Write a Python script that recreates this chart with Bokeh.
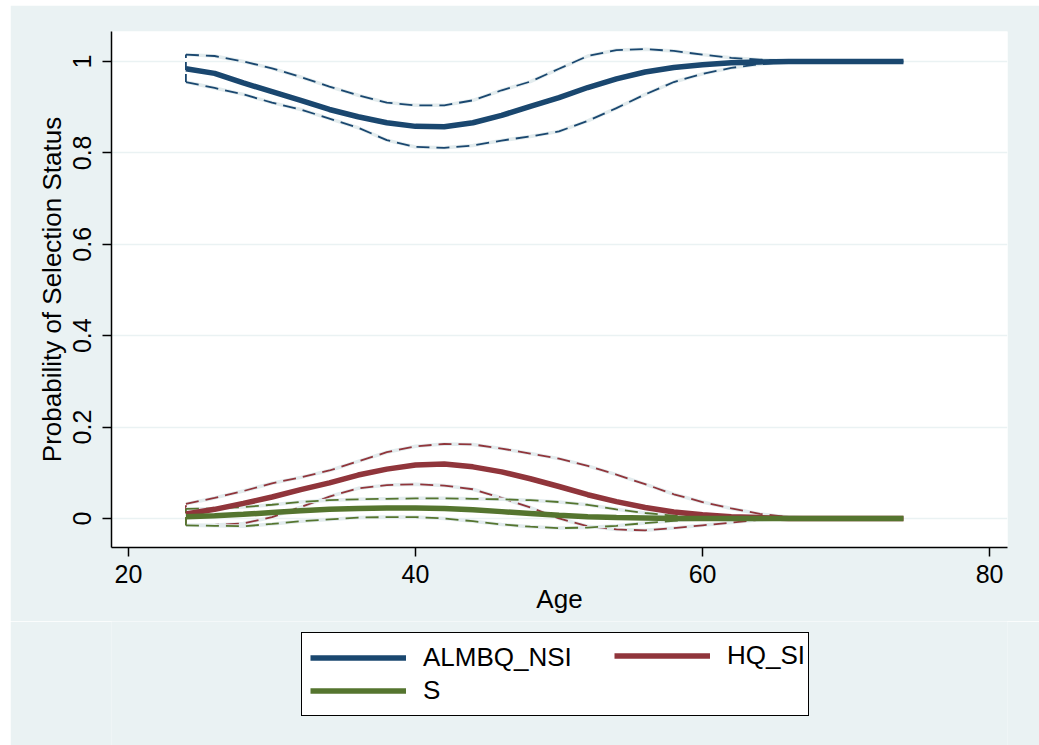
from bokeh.plotting import figure
from bokeh.models import Range1d, FixedTicker, Legend, LegendItem
from bokeh.layouts import column
from bokeh.embed import file_html
from bokeh.resources import INLINE

# ---------------- data ----------------
ages = [24, 26, 28, 30, 32, 34, 36, 38, 40, 42, 44, 46, 48, 50, 52, 54, 56,
        58, 60, 62, 64, 66, 68, 70, 72, 74]

almbq_p = [0.984, 0.974, 0.953, 0.934, 0.915, 0.895, 0.879, 0.866, 0.858, 0.857,
           0.866, 0.882, 0.902, 0.921, 0.943, 0.962, 0.977, 0.987, 0.993, 0.997,
           0.999, 1.0, 1.0, 1.0, 1.0, 1.0]
almbq_hi = [1.015, 1.012, 1.000, 0.985, 0.966, 0.945, 0.926, 0.910, 0.904, 0.904,
            0.915, 0.937, 0.956, 0.984, 1.012, 1.025, 1.027, 1.023, 1.015, 1.008,
            1.004, 1.001, 1.0, 1.0, 1.0, 1.0]
almbq_lo = [0.955, 0.942, 0.928, 0.910, 0.895, 0.875, 0.855, 0.828, 0.813, 0.811,
            0.816, 0.827, 0.836, 0.847, 0.870, 0.898, 0.928, 0.955, 0.973, 0.986,
            0.994, 0.999, 1.0, 1.0, 1.0, 1.0]

hq_p = [0.010, 0.020, 0.033, 0.047, 0.063, 0.078, 0.095, 0.108, 0.117, 0.119,
        0.113, 0.102, 0.087, 0.070, 0.052, 0.037, 0.024, 0.014, 0.008, 0.004,
        0.002, 0.0, 0.0, 0.0, 0.0, 0.0]
hq_hi = [0.032, 0.045, 0.060, 0.077, 0.090, 0.105, 0.125, 0.145, 0.158, 0.163,
         0.162, 0.153, 0.142, 0.131, 0.115, 0.096, 0.075, 0.053, 0.036, 0.022,
         0.010, 0.003, 0.0, 0.0, 0.0, 0.0]
hq_lo = [-0.015, -0.014, -0.011, 0.003, 0.025, 0.048, 0.066, 0.073, 0.075, 0.072,
         0.064, 0.045, 0.024, 0.000, -0.017, -0.024, -0.026, -0.021, -0.015, -0.009,
         -0.003, 0.0, 0.0, 0.0, 0.0, 0.0]

s_p = [0.004, 0.006, 0.009, 0.013, 0.017, 0.020, 0.022, 0.023, 0.023, 0.022,
       0.019, 0.015, 0.011, 0.007, 0.004, 0.002, 0.001, 0.0, 0.0, 0.0,
       0.0, 0.0, 0.0, 0.0, 0.0, 0.0]
s_hi = [0.021, 0.022, 0.025, 0.030, 0.036, 0.040, 0.042, 0.043, 0.044, 0.044,
        0.043, 0.042, 0.040, 0.036, 0.030, 0.020, 0.012, 0.006, 0.002, 0.0,
        0.0, 0.0, 0.0, 0.0, 0.0, 0.0]
s_lo = [-0.015, -0.016, -0.017, -0.012, -0.006, -0.002, 0.002, 0.003, 0.003, 0.000,
        -0.006, -0.013, -0.018, -0.021, -0.020, -0.016, -0.010, -0.005, -0.001, 0.0,
        0.0, 0.0, 0.0, 0.0, 0.0, 0.0]

series_names = ["ALMBQ_NSI", "HQ_SI", "S"]
x_ticks = [20, 40, 60, 80]
y_ticks = [0, 0.2, 0.4, 0.6, 0.8, 1]
y_tick_labels = {0: "0", 0.2: "0.2", 0.4: "0.4", 0.6: "0.6", 0.8: "0.8", 1: "1"}
x_label = "Age"
y_label = "Probability of Selection Status"

# ---------------- styling ----------------
BG = "#EAF2F3"
FONT = "Liberation Sans"
colors = ["#1A476F", "#90353B", "#55752F"]

p = figure(width=1029, height=616, margin=(5, 0, 0, 10),
           x_range=Range1d(18.815, 81.25), y_range=Range1d(-0.0635, 1.0656),
           output_backend="svg", toolbar_location=None,
           min_border_left=101, min_border_right=32,
           min_border_top=26, min_border_bottom=74,
           background_fill_color="white", border_fill_color=BG,
           outline_line_color=None)

series = [(almbq_p, almbq_lo, almbq_hi), (hq_p, hq_lo, hq_hi), (s_p, s_lo, s_hi)]

# confidence bands (dashed), drawn first
for (mid, lo, hi), c in zip(series, colors):
    for band in (hi, lo):
        p.line(ages, band, line_color="#E3ECEE", line_width=3.5)
        p.line(ages, band, line_color=c, line_width=1.8, line_dash="13 7")
    p.line([ages[0], ages[0]], [lo[0], hi[0]], line_color=c, line_width=1.8,
           line_dash="8 4")

# main lines
for (mid, lo, hi), c in zip(series, colors):
    p.line(ages, mid, line_color=c, line_width=5.5)

# axes
for ax in (p.xaxis, p.yaxis):
    ax.axis_line_color = "black"
    ax.axis_line_width = 1.5
    ax.major_tick_line_color = "black"
    ax.major_tick_line_width = 1.5
    ax.major_tick_out = 9
    ax.major_tick_in = 0
    ax.minor_tick_line_color = None
    ax.major_label_text_font = FONT
    ax.major_label_text_font_size = "25px"
    ax.major_label_text_color = "black"
    ax.axis_label_text_font = FONT
    ax.axis_label_text_font_size = "26px"
    ax.axis_label_text_font_style = "normal"
    ax.axis_label_text_color = "black"

p.xaxis.ticker = FixedTicker(ticks=x_ticks)
p.yaxis.ticker = FixedTicker(ticks=y_ticks)
p.yaxis.major_label_overrides = y_tick_labels
p.yaxis.major_label_orientation = "vertical"
p.xaxis.axis_label = x_label
p.yaxis.axis_label = y_label
p.xaxis.major_label_standoff = 8
p.xaxis.axis_label_standoff = -2
p.yaxis.major_label_standoff = 11
p.yaxis.axis_label_standoff = 4

p.xgrid.visible = False
p.ygrid.ticker = FixedTicker(ticks=y_ticks)
p.ygrid.grid_line_color = BG
p.ygrid.grid_line_width = 1.5

# ---------------- legend strip (separate figure below) ----------------
p2 = figure(width=1029, height=124, margin=(0, 0, 0, 10),
            x_range=Range1d(0, 1), y_range=Range1d(0, 1),
            x_axis_type=None, y_axis_type=None,
            output_backend="svg", toolbar_location=None,
            min_border_left=101, min_border_right=32,
            min_border_top=0, min_border_bottom=0,
            background_fill_color=BG, border_fill_color=BG,
            outline_line_color=None)
p2.xgrid.visible = False
p2.ygrid.visible = False
# key renderers carry the series data but fall outside this strip's ranges
keys = [p2.line(ages, mid, line_color=c, line_width=5.5)
        for (mid, lo, hi), c in zip(series, colors)]

common = dict(label_text_font=FONT, label_text_font_size="26px",
              label_text_color="black", glyph_width=96, glyph_height=33,
              label_height=33, label_standoff=17, spacing=0, padding=8,
              margin=0)

# boxed legend: first column (ALMBQ_NSI, S), wide enough to hold both columns
legend_a = Legend(items=[LegendItem(label=series_names[0], renderers=[keys[0]]),
                         LegendItem(label=series_names[2], renderers=[keys[2]])],
                  orientation="vertical", location=(190, 29), label_width=377,
                  border_line_color="black", border_line_width=1.5,
                  border_line_alpha=1.0,
                  background_fill_color="white", background_fill_alpha=1.0,
                  **common)
# second column (HQ_SI), on the first row
legend_b = Legend(items=[LegendItem(label=series_names[1], renderers=[keys[1]])],
                  orientation="vertical", location=(503, 73),
                  border_line_color=None, background_fill_alpha=0.0,
                  **common)
p2.add_layout(legend_a, "center")
p2.add_layout(legend_b, "center")

layout = column(p, p2, spacing=0)
open("out.html", "w").write(file_html(layout, INLINE))
